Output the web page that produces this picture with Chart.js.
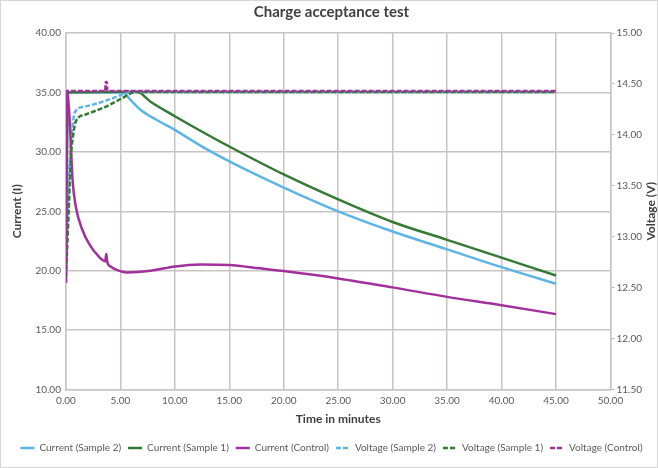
<!DOCTYPE html>
<html lang="en">
<head>
<meta charset="UTF-8">
<title>Charge acceptance test</title>
<script src="https://cdn.jsdelivr.net/npm/chart.js"></script>
<style>
  html, body { margin: 0; padding: 0; background: #fff; }
  .frame { width: 656px; height: 466px; border: 1px solid #d6d6d6; }
  canvas { display: block; }
</style>
</head>
<body>
<div class="frame"><canvas id="chart" width="656" height="466"></canvas></div>
<script>
  // time (minutes) and readings
  const tCurS2 = [0, 0.15, 5.3, 5.8, 6.9, 8.3, 10, 12.3, 15, 20, 25, 30, 35, 40, 45];
  const curS2  = [20.5, 35.0, 35.0, 34.5, 33.5, 32.7, 31.85, 30.55, 29.2, 27.0, 25.0, 23.3, 21.8, 20.3, 18.9];

  const tCurS1 = [0, 0.2, 6.5, 7.8, 10, 12.3, 15, 20, 25, 30, 35, 40, 45];
  const curS1  = [21.0, 35.0, 35.05, 34.2, 33.0, 31.8, 30.45, 28.1, 26.0, 24.1, 22.6, 21.1, 19.6];

  const tCurCtl = [0, 0.1, 0.3, 0.46, 0.6, 0.9, 1.5, 2.1, 3.0, 3.6, 3.7, 3.8, 4.1, 4.6, 5.6, 7.8, 10, 12.3, 15, 17.8, 20, 25, 30, 35, 40, 45];
  const curCtl  = [19.0, 35.0, 33.3, 30.4, 27.7, 25.4, 23.45, 22.3, 21.2, 20.8, 21.4, 20.7, 20.35, 20.1, 19.86, 20.0, 20.36, 20.53, 20.48, 20.2, 19.97, 19.35, 18.6, 17.8, 17.1, 16.35];

  const tVoltS2 = [0, 0.2, 0.4, 0.6, 0.8, 1.8, 3.5, 5.0, 5.6, 45];
  const voltS2  = [12.7, 13.4, 13.85, 14.08, 14.22, 14.28, 14.33, 14.39, 14.42, 14.42];

  const tVoltS1 = [0, 0.25, 0.46, 0.6, 0.9, 1.8, 3.5, 5.0, 6.4, 45];
  const voltS1  = [12.6, 13.25, 13.8, 13.95, 14.13, 14.2, 14.27, 14.35, 14.42, 14.42];

  const tVoltCtl = [0, 0.05, 3.6, 3.65, 3.75, 3.8, 45];
  const voltCtl  = [12.55, 14.43, 14.43, 14.52, 14.52, 14.43, 14.43];

  const xRange = [0, 50, 5];
  const currentRange = [10, 40, 5];
  const voltageRange = [11.5, 15, 0.5];

  const BLUE = '#5db5e6', GREEN = '#357a34', PURPLE = '#a2309c';
  const FONT = 'Lato, sans-serif';
  const TXT = '#595959', HEAD = '#404040', GRID = '#cac3c3';

  const pts = (ts, vs) => ts.map((t, i) => ({ x: t, y: vs[i] }));

  function series(label, ts, vs, color, axis, dashed, order) {
    return {
      label, data: pts(ts, vs), yAxisID: axis,
      borderColor: color, backgroundColor: color,
      borderWidth: 2.5, borderDash: dashed ? [5, 2] : [],
      pointRadius: 0, cubicInterpolationMode: 'monotone', order
    };
  }

  // secondary axis title reads bottom-to-top like the primary one
  const rightTitle = {
    id: 'rightTitle',
    afterDraw(chart) {
      const { ctx, chartArea } = chart;
      const s = chart.scales.yV;
      ctx.save();
      ctx.translate(s.right - 6, (chartArea.top + chartArea.bottom) / 2);
      ctx.rotate(-Math.PI / 2);
      ctx.font = 'bold 12px ' + FONT;
      ctx.fillStyle = HEAD;
      ctx.textAlign = 'center';
      ctx.textBaseline = 'middle';
      ctx.fillText('Voltage (V)', 0, 0);
      ctx.restore();
    }
  };

  const grid = { color: GRID, lineWidth: 1.5 };
  const tickFont = { family: FONT, size: 10 };
  const fmt = v => v.toFixed(2);

  new Chart(document.getElementById('chart'), {
    type: 'line',
    data: {
      datasets: [
        series('Current (Sample 2)', tCurS2, curS2, BLUE, 'yI', false, 5),
        series('Current (Sample 1)', tCurS1, curS1, GREEN, 'yI', false, 4),
        series('Current (Control)', tCurCtl, curCtl, PURPLE, 'yI', false, 2),
        series('Voltage (Sample 2)', tVoltS2, voltS2, BLUE, 'yV', true, 3),
        series('Voltage (Sample 1)', tVoltS1, voltS1, GREEN, 'yV', true, 1),
        series('Voltage (Control)', tVoltCtl, voltCtl, PURPLE, 'yV', true, 0)
      ]
    },
    options: {
      responsive: false,
      animation: false,
      layout: { padding: { left: 5, right: 0, top: 0, bottom: 4 } },
      plugins: {
        title: {
          display: true,
          text: 'Charge acceptance test',
          color: HEAD,
          font: { family: FONT, size: 15, weight: 'bold' },
          padding: { top: 2, bottom: 12 }
        },
        legend: {
          position: 'bottom',
          labels: {
            usePointStyle: true, pointStyle: 'line', pointStyleWidth: 14,
            boxHeight: 8, padding: 7,
            color: TXT, font: { family: FONT, size: 10 },
            sort: (a, b) => a.datasetIndex - b.datasetIndex,
            generateLabels(chart) {
              const items = Chart.defaults.plugins.legend.labels.generateLabels(chart);
              items.forEach(it => {
                const ds = chart.data.datasets[it.datasetIndex];
                it.pointStyle = 'line';
                it.lineDash = ds.borderDash;
                it.lineWidth = 2.5;
                it.strokeStyle = ds.borderColor;
              });
              return items;
            }
          }
        },
        tooltip: { enabled: false }
      },
      scales: {
        x: {
          type: 'linear',
          min: xRange[0], max: xRange[1],
          ticks: { stepSize: xRange[2], color: TXT, font: tickFont, padding: 5, callback: fmt },
          grid: { ...grid, drawTicks: false },
          border: { color: GRID, width: 1.5 },
          title: { display: true, text: 'Time in minutes', color: HEAD,
                   font: { family: FONT, size: 12, weight: 'bold' }, padding: { top: 0, bottom: 10 } }
        },
        yI: {
          position: 'left',
          min: currentRange[0], max: currentRange[1],
          ticks: { stepSize: currentRange[2], color: TXT, font: tickFont, padding: 5, callback: fmt },
          grid: { ...grid, drawTicks: false },
          border: { color: GRID, width: 1.5 },
          title: { display: true, text: 'Current (I)', color: HEAD,
                   font: { family: FONT, size: 12, weight: 'bold' }, padding: { top: 4, bottom: 6 } }
        },
        yV: {
          position: 'right',
          min: voltageRange[0], max: voltageRange[1],
          ticks: { stepSize: voltageRange[2], color: TXT, font: tickFont, padding: 2, callback: fmt },
          grid: { drawOnChartArea: false, color: '#b9b3b3', tickLength: 4 },
          border: { color: GRID, width: 1.5 },
          afterFit(scale) { scale.width += 13; }
        }
      }
    },
    plugins: [rightTitle]
  });
</script>
</body>
</html>
